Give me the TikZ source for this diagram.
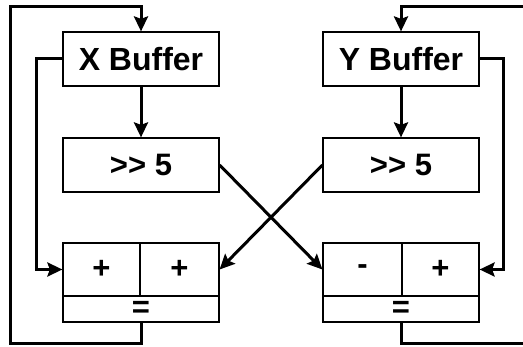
\documentclass[tikz,border=0pt]{standalone}
\usepackage{fontspec}
\setmainfont{Liberation Sans}
\usetikzlibrary{arrows.meta}
\begin{document}
\begin{tikzpicture}[x=1pt,y=-1pt,
  cell/.style={draw=black,line width=1.2pt,inner sep=0pt},
  bufbox/.style={cell,minimum width=156pt,minimum height=54pt,font=\fontsize{32}{32}\selectfont\bfseries},
  shiftbox/.style={cell,minimum width=156pt,minimum height=54pt,font=\fontsize{31}{31}\selectfont\bfseries},
  opcell/.style={cell,minimum height=53pt,font=\fontsize{31}{31}\selectfont\bfseries},
  eqcell/.style={cell,minimum width=156pt,minimum height=26pt,font=\fontsize{31}{31}\selectfont\bfseries},
  wire/.style={line width=3pt,line join=miter},
  flow/.style={wire,-{Stealth[length=15pt,width=14pt,inset=2.5pt]}}]
\useasboundingbox (0,0) rectangle (523,347);
\fill[white] (0,0) rectangle (523,347);

% X channel
\node[bufbox]   (xbuf) at (141,59)  {X Buffer};
\node[shiftbox] (xsh)  at (141,165) {>{}> 5};
\node[opcell,minimum width=77pt] (xa) at (101.5,269.5) {+};
\node[opcell,minimum width=79pt] (xb) at (179.5,269.5) {+};
\node[eqcell]   (xeq)  at (141,309) {=};

% Y channel
\node[bufbox]   (ybuf) at (401,59)  {Y Buffer};
\node[shiftbox] (ysh)  at (401,165) {>{}> 5};
\node[opcell,minimum width=79pt] (ya) at (362.5,269.5) {-};
\node[opcell,minimum width=77pt] (yb) at (440.5,269.5) {+};
\node[eqcell]   (yeq)  at (401,309) {=};

% corner points of the loops
\coordinate (xlo) at (10,344);
\coordinate (xhi) at (10,7);
\coordinate (xin) at (36,59);
\coordinate (ylo) at (524,344);
\coordinate (yhi) at (524,7);
\coordinate (yin) at (503,59);

% buffer -> shift
\draw[flow] (xbuf.south) -- (xsh.north);
\draw[flow] (ybuf.south) -- (ysh.north);

% buffer -> own adder input
\draw[flow] (xbuf.west) -- (xin) |- (xa.west);
\draw[flow] (ybuf.east) -- (yin) |- (yb.east);

% shifted values cross over
\draw[flow] (xsh.east) -- (ya.west);
\draw[flow] (ysh.west) -- (xb.east);

% results fed back to the buffers
\draw[flow] (xeq.south) |- (xlo) -- (xhi) -| (xbuf.north);
\draw[wire] (yeq.south) |- (ylo);
\draw[flow] (yhi) -| (ybuf.north);
\end{tikzpicture}
\end{document}
